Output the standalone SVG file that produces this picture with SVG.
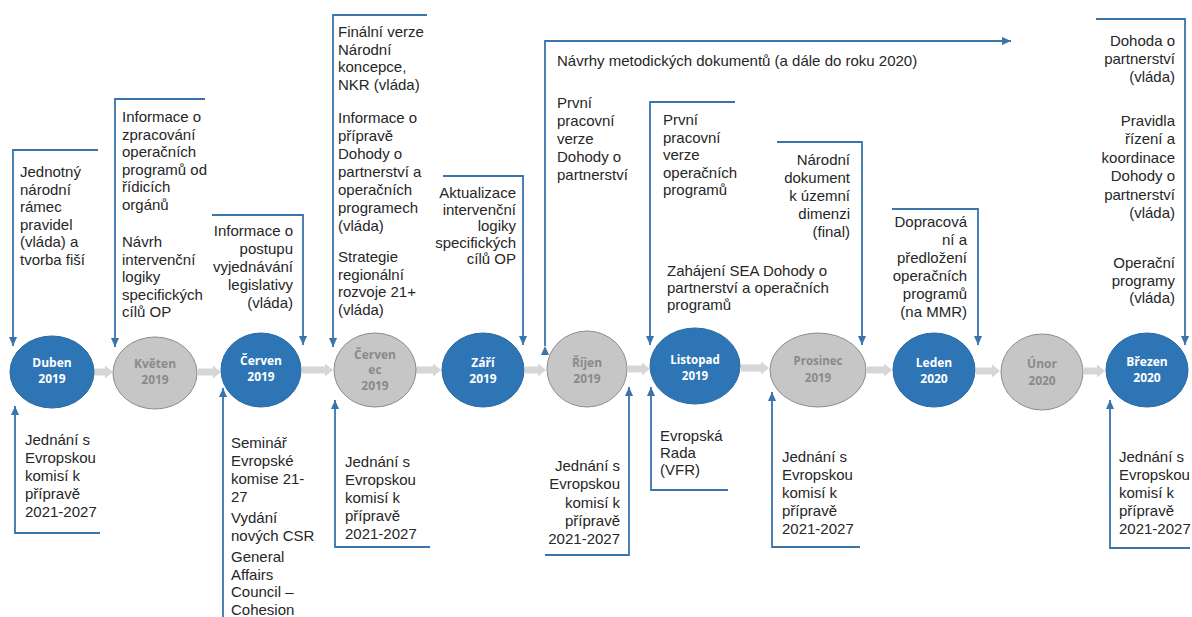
<svg xmlns="http://www.w3.org/2000/svg" width="1192" height="617" viewBox="0 0 1192 617">
<style>
.t{font-family:"Liberation Sans",Arial,sans-serif;font-size:15px;fill:#262626}
.r{text-anchor:end}
.cl{font-family:"Open Sans","Liberation Sans",sans-serif;font-weight:700;font-size:12px;text-anchor:middle}
.cb{fill:#2e75b6;stroke:#2b68a2;stroke-width:1}
.cg{fill:#c6c6c6;stroke:#8c8c8c;stroke-width:1}
.wb{fill:#ffffff}
.wg{fill:#8a8a8a}
.conn{fill:none;stroke:#3a74ad;stroke-width:1.8}
.ga{fill:#d6d6d6}
</style>
<defs>
<marker id="ah" markerUnits="userSpaceOnUse" markerWidth="9" markerHeight="9" viewBox="0 0 10 10" refX="10" refY="5" orient="auto">
<path d="M0,0.5 L10,5 L0,9.5 z" fill="#3a74ad"/>
</marker>
</defs>
<rect width="1192" height="617" fill="#ffffff"/>

<g id="timeline-arrows">
<path class="ga" d="M94,368.5 H105 V365.5 L113,372 L105,378.5 V375.5 H94 Z"/>
<path class="ga" d="M198,368.5 H213 V365.5 L221,372 L213,378.5 V375.5 H198 Z"/>
<path class="ga" d="M302,366.5 H325 V363.5 L333,370 L325,376.5 V373.5 H302 Z"/>
<path class="ga" d="M416,366.5 H433 V363.5 L441,370 L433,376.5 V373.5 H416 Z"/>
<path class="ga" d="M525,366.5 H538 V363.5 L546,370 L538,376.5 V373.5 H525 Z"/>
<path class="ga" d="M628,365.5 H642 V362.5 L650,369 L642,375.5 V372.5 H628 Z"/>
<path class="ga" d="M741,364.5 H761 V361.5 L769,368 L761,374.5 V371.5 H741 Z"/>
<path class="ga" d="M867,366.5 H884 V363.5 L892,370 L884,376.5 V373.5 H867 Z"/>
<path class="ga" d="M976,367.5 H992 V364.5 L1000,371 L992,377.5 V374.5 H976 Z"/>
<path class="ga" d="M1084,367.5 H1097 V364.5 L1105,371 L1097,377.5 V374.5 H1084 Z"/>
</g>

<g id="connectors">
<path class="conn" d="M98,150 H13 V346" marker-end="url(#ah)"/>
<path class="conn" d="M205,99 H115 V347" marker-end="url(#ah)"/>
<path class="conn" d="M212,215 H303 V345" marker-end="url(#ah)"/>
<path class="conn" d="M427,15 H333 V347" marker-end="url(#ah)"/>
<path class="conn" d="M443,176 H523 V345" marker-end="url(#ah)"/>
<path class="conn" d="M545,346 V41 H1011" marker-start="url(#ah)" marker-end="url(#ah)"/>
<path class="conn" d="M735,102 H650 V345" marker-end="url(#ah)"/>
<path class="conn" d="M777,142 H862 V345" marker-end="url(#ah)"/>
<path class="conn" d="M892,209 H978 V345" marker-end="url(#ah)"/>
<path class="conn" d="M1096,19 H1185 V345" marker-end="url(#ah)"/>
<path class="conn" d="M100,533 H15 V406" marker-end="url(#ah)"/>
<path class="conn" d="M223,617 V388" marker-end="url(#ah)"/>
<path class="conn" d="M430,547 H335 V400" marker-end="url(#ah)"/>
<path class="conn" d="M545,555 H629 V387" marker-end="url(#ah)"/>
<path class="conn" d="M728,490 H651 V387" marker-end="url(#ah)"/>
<path class="conn" d="M860,547 H772 V392" marker-end="url(#ah)"/>
<path class="conn" d="M1190,548 H1110 V400" marker-end="url(#ah)"/>
</g>

<g id="n-duben">
<ellipse class="cb" cx="52" cy="372" rx="42" ry="36"/>
<text class="cl wb"><tspan x="52" y="367">Duben</tspan><tspan x="52" y="383">2019</tspan></text>
</g>
<g id="n-kveten">
<ellipse class="cg" cx="155" cy="373" rx="42" ry="36"/>
<text class="cl wg"><tspan x="155" y="368">Květen</tspan><tspan x="155" y="384">2019</tspan></text>
</g>
<g id="n-cerven">
<ellipse class="cb" cx="261" cy="370" rx="40" ry="37"/>
<text class="cl wb"><tspan x="261" y="365">Červen</tspan><tspan x="261" y="381">2019</tspan></text>
</g>
<g id="n-cervenec">
<ellipse class="cg" cx="375" cy="370" rx="41" ry="37"/>
<text class="cl wg"><tspan x="375" y="359">Červen</tspan><tspan x="375" y="374">ec</tspan><tspan x="375" y="390">2019</tspan></text>
</g>
<g id="n-zari">
<ellipse class="cb" cx="483" cy="370" rx="41" ry="37"/>
<text class="cl wb"><tspan x="483" y="367">Září</tspan><tspan x="483" y="383">2019</tspan></text>
</g>
<g id="n-rijen">
<ellipse class="cg" cx="587" cy="369" rx="40" ry="38"/>
<text class="cl wg"><tspan x="587" y="367">Říjen</tspan><tspan x="587" y="383">2019</tspan></text>
</g>
<g id="n-listopad">
<ellipse class="cb" cx="695" cy="366" rx="45" ry="38"/>
<text class="cl wb" style="font-size:11.5px"><tspan x="695" y="364">Listopad</tspan><tspan x="695" y="380">2019</tspan></text>
</g>
<g id="n-prosinec">
<ellipse class="cg" cx="818" cy="370" rx="48" ry="37"/>
<text class="cl wg" style="font-size:11.5px"><tspan x="818" y="365">Prosinec</tspan><tspan x="818" y="382">2019</tspan></text>
</g>
<g id="n-leden">
<ellipse class="cb" cx="934" cy="370" rx="41" ry="37"/>
<text class="cl wb"><tspan x="934" y="367">Leden</tspan><tspan x="934" y="383">2020</tspan></text>
</g>
<g id="n-unor">
<ellipse class="cg" cx="1042" cy="372" rx="41" ry="38"/>
<text class="cl wg"><tspan x="1042" y="368">Únor</tspan><tspan x="1042" y="385">2020</tspan></text>
</g>
<g id="n-brezen">
<ellipse class="cb" cx="1147" cy="370" rx="41" ry="37"/>
<text class="cl wb"><tspan x="1147" y="366">Březen</tspan><tspan x="1147" y="382">2020</tspan></text>
</g>

<g id="l-duben-top">
<text class="t"><tspan x="20" y="177">Jednotný</tspan><tspan x="20" y="194.5">národní</tspan><tspan x="20" y="212">rámec</tspan><tspan x="20" y="229.5">pravidel</tspan><tspan x="20" y="247">(vláda) a</tspan><tspan x="20" y="264.5">tvorba fiší</tspan></text>
</g>
<g id="l-kveten-top">
<text class="t"><tspan x="122" y="122">Informace o</tspan><tspan x="122" y="139.5">zpracování</tspan><tspan x="122" y="157">operačních</tspan><tspan x="122" y="174.5">programů od</tspan><tspan x="122" y="192">řídicích</tspan><tspan x="122" y="209.5">orgánů</tspan><tspan x="122" y="247">Návrh</tspan><tspan x="122" y="264.5">intervenční</tspan><tspan x="122" y="282">logiky</tspan><tspan x="122" y="299.5">specifických</tspan><tspan x="122" y="317">cílů OP</tspan></text>
</g>
<g id="l-cerven-top">
<text class="t r"><tspan x="293" y="236">Informace o</tspan><tspan x="293" y="254">postupu</tspan><tspan x="293" y="272">vyjednávání</tspan><tspan x="293" y="290">legislativy</tspan><tspan x="293" y="308">(vláda)</tspan></text>
</g>
<g id="l-cervenec-top">
<text class="t"><tspan x="338" y="37">Finální verze</tspan><tspan x="338" y="54.7">Národní</tspan><tspan x="338" y="72.3">koncepce,</tspan><tspan x="338" y="90">NKR (vláda)</tspan><tspan x="338" y="123">Informace o</tspan><tspan x="338" y="141">přípravě</tspan><tspan x="338" y="159">Dohody o</tspan><tspan x="338" y="177">partnerství a</tspan><tspan x="338" y="195">operačních</tspan><tspan x="338" y="213">programech</tspan><tspan x="338" y="231">(vláda)</tspan><tspan x="338" y="262">Strategie</tspan><tspan x="338" y="279.5">regionální</tspan><tspan x="338" y="297">rozvoje 21+</tspan><tspan x="338" y="314.5">(vláda)</tspan></text>
</g>
<g id="l-zari-top">
<text class="t r"><tspan x="516" y="198">Aktualizace</tspan><tspan x="516" y="214.5">intervenční</tspan><tspan x="516" y="231">logiky</tspan><tspan x="516" y="247.5">specifických</tspan><tspan x="516" y="264">cílů OP</tspan></text>
</g>
<g id="l-navrhy">
<text class="t" x="557" y="66">Návrhy metodických dokumentů (a dále do roku 2020)</text>
</g>
<g id="l-rijen-top">
<text class="t"><tspan x="557" y="108">První</tspan><tspan x="557" y="126">pracovní</tspan><tspan x="557" y="144">verze</tspan><tspan x="557" y="162">Dohody o</tspan><tspan x="557" y="180">partnerství</tspan></text>
</g>
<g id="l-listopad-top">
<text class="t"><tspan x="663" y="125">První</tspan><tspan x="663" y="142.5">pracovní</tspan><tspan x="663" y="160">verze</tspan><tspan x="663" y="177.5">operačních</tspan><tspan x="663" y="195">programů</tspan></text>
</g>
<g id="l-prosinec-top">
<text class="t r"><tspan x="850" y="165">Národní</tspan><tspan x="850" y="183">dokument</tspan><tspan x="850" y="201">k územní</tspan><tspan x="850" y="219">dimenzi</tspan><tspan x="850" y="237">(final)</tspan></text>
</g>
<g id="l-sea">
<text class="t"><tspan x="667" y="276">Zahájení SEA Dohody o</tspan><tspan x="667" y="293">partnerství a operačních</tspan><tspan x="667" y="310">programů</tspan></text>
</g>
<g id="l-leden-top">
<text class="t r"><tspan x="967" y="227">Dopracová</tspan><tspan x="967" y="245">ní a</tspan><tspan x="967" y="263">předložení</tspan><tspan x="967" y="281">operačních</tspan><tspan x="967" y="299">programů</tspan><tspan x="967" y="317">(na MMR)</tspan></text>
</g>
<g id="l-brezen-top">
<text class="t r"><tspan x="1175" y="46">Dohoda o</tspan><tspan x="1175" y="64">partnerství</tspan><tspan x="1175" y="82">(vláda)</tspan><tspan x="1175" y="126">Pravidla</tspan><tspan x="1175" y="144.4">řízení a</tspan><tspan x="1175" y="162.8">koordinace</tspan><tspan x="1175" y="181.2">Dohody o</tspan><tspan x="1175" y="199.6">partnerství</tspan><tspan x="1175" y="218">(vláda)</tspan><tspan x="1175" y="268">Operační</tspan><tspan x="1175" y="285.5">programy</tspan><tspan x="1175" y="303">(vláda)</tspan></text>
</g>

<g id="l-duben-bottom">
<text class="t"><tspan x="25" y="445">Jednání s</tspan><tspan x="25" y="463">Evropskou</tspan><tspan x="25" y="481">komisí k</tspan><tspan x="25" y="499">přípravě</tspan><tspan x="25" y="517">2021-2027</tspan></text>
</g>
<g id="l-cerven-bottom">
<text class="t"><tspan x="231" y="448">Seminář</tspan><tspan x="231" y="466">Evropské</tspan><tspan x="231" y="484">komise 21-</tspan><tspan x="231" y="502">27</tspan><tspan x="231" y="523">Vydání</tspan><tspan x="231" y="541">nových CSR</tspan><tspan x="231" y="562">General</tspan><tspan x="231" y="579.5">Affairs</tspan><tspan x="231" y="597">Council –</tspan><tspan x="231" y="614.5">Cohesion</tspan></text>
</g>
<g id="l-cervenec-bottom">
<text class="t"><tspan x="345" y="467">Jednání s</tspan><tspan x="345" y="485">Evropskou</tspan><tspan x="345" y="503">komisí k</tspan><tspan x="345" y="521">přípravě</tspan><tspan x="345" y="539">2021-2027</tspan></text>
</g>
<g id="l-rijen-bottom">
<text class="t r"><tspan x="620" y="471">Jednání s</tspan><tspan x="620" y="489.3">Evropskou</tspan><tspan x="620" y="507.6">komisí k</tspan><tspan x="620" y="525.9">přípravě</tspan><tspan x="620" y="544">2021-2027</tspan></text>
</g>
<g id="l-listopad-bottom">
<text class="t"><tspan x="660" y="441">Evropská</tspan><tspan x="660" y="458">Rada</tspan><tspan x="660" y="475">(VFR)</tspan></text>
</g>
<g id="l-prosinec-bottom">
<text class="t"><tspan x="782" y="462">Jednání s</tspan><tspan x="782" y="480">Evropskou</tspan><tspan x="782" y="498">komisí k</tspan><tspan x="782" y="516">přípravě</tspan><tspan x="782" y="534">2021-2027</tspan></text>
</g>
<g id="l-brezen-bottom">
<text class="t"><tspan x="1119" y="462">Jednání s</tspan><tspan x="1119" y="480">Evropskou</tspan><tspan x="1119" y="498">komisí k</tspan><tspan x="1119" y="516">přípravě</tspan><tspan x="1119" y="534">2021-2027</tspan></text>
</g>
</svg>
